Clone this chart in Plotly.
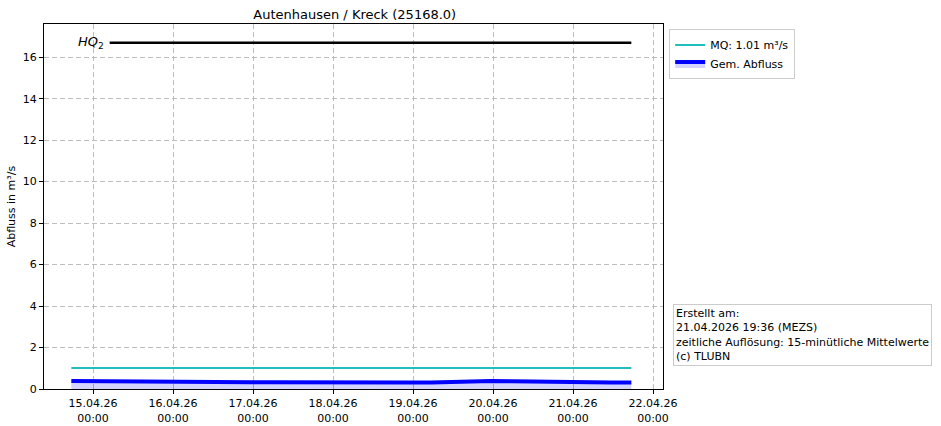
import plotly.graph_objects as go

zeiten = [
    "2026-04-14 17:30", "2026-04-14 23:30", "2026-04-15 05:30", "2026-04-15 11:30",
    "2026-04-15 17:30", "2026-04-15 23:30", "2026-04-16 05:30", "2026-04-16 11:30",
    "2026-04-16 17:30", "2026-04-16 23:30", "2026-04-17 05:30", "2026-04-17 11:30",
    "2026-04-17 17:30", "2026-04-17 23:30", "2026-04-18 05:30", "2026-04-18 11:30",
    "2026-04-18 17:30", "2026-04-18 23:30", "2026-04-19 05:30", "2026-04-19 11:30",
    "2026-04-19 17:30", "2026-04-19 23:30", "2026-04-20 05:30", "2026-04-20 11:30",
    "2026-04-20 17:30", "2026-04-20 23:30", "2026-04-21 05:30", "2026-04-21 11:30",
    "2026-04-21 17:30",
]
abfluss = [
    0.38, 0.37, 0.36, 0.35, 0.34, 0.34, 0.33, 0.33,
    0.33, 0.33, 0.33, 0.32, 0.32, 0.31, 0.31, 0.31,
    0.31, 0.31, 0.31, 0.33, 0.38, 0.39, 0.37, 0.35,
    0.34, 0.32, 0.31, 0.31, 0.31,
]

mq = 1.01
hq2 = 16.7
hq_zeiten = ["2026-04-15 05:00", "2026-04-21 17:30"]

tick_zeiten = [
    "2026-04-15", "2026-04-16", "2026-04-17", "2026-04-18",
    "2026-04-19", "2026-04-20", "2026-04-21", "2026-04-22",
]
tick_texte = [
    "15.04.26<br>00:00", "16.04.26<br>00:00", "17.04.26<br>00:00", "18.04.26<br>00:00",
    "19.04.26<br>00:00", "20.04.26<br>00:00", "21.04.26<br>00:00", "22.04.26<br>00:00",
]

FONT = "DejaVu Sans"

fig = go.Figure()

# HQ2 (ohne Legendeneintrag)
fig.add_trace(go.Scatter(
    x=hq_zeiten, y=[hq2, hq2], mode="lines",
    line=dict(color="black", width=2.5), showlegend=False, hoverinfo="skip",
))
fig.add_trace(go.Scatter(
    x=[zeiten[0], zeiten[-1]], y=[mq, mq], mode="lines",
    line=dict(color="#1fbfbf", width=2), name=f"MQ: {mq} m³/s",
))
fig.add_trace(go.Scatter(
    x=zeiten, y=abfluss, mode="lines", fill="tozeroy",
    fillcolor="rgba(0,0,255,0.17)",
    line=dict(color="blue", width=4), name="Gem. Abfluss",
))

fig.add_annotation(
    x="2026-04-14 19:00", y=hq2, xref="x", yref="y", showarrow=False,
    xanchor="left", yanchor="middle",
    text="<i>HQ</i><sub>2</sub>", font=dict(size=13, color="black", family=FONT),
)
fig.add_annotation(
    x=1.016, y=0.063, xref="paper", yref="paper", showarrow=False,
    xanchor="left", yanchor="bottom", align="left",
    text=("Erstellt am:<br>21.04.2026 19:36 (MEZS)<br>"
          "zeitliche Auflösung: 15-minütliche Mittelwerte<br>(c) TLUBN"),
    font=dict(size=11, color="black", family=FONT),
    bordercolor="#cccccc", borderwidth=1, borderpad=2, bgcolor="white",
)
# y-Achsentitel als Annotation, damit die Lage passt
fig.add_annotation(
    x=-0.052, y=0.5, xref="paper", yref="paper", showarrow=False,
    xanchor="center", yanchor="middle", textangle=-90,
    text="Abfluss in m³/s", font=dict(size=11, color="black", family=FONT),
)

grid = dict(showgrid=True, gridcolor="#bdbdbd", griddash="5px,3px", gridwidth=1,
            showline=True, linecolor="black", linewidth=1, mirror=True,
            ticks="outside", ticklen=4, tickcolor="black", zeroline=False,
            tickfont=dict(size=11, color="black", family=FONT))

fig.update_xaxes(
    range=["2026-04-14 09:18", "2026-04-22 03:00"],
    tickvals=tick_zeiten, ticktext=tick_texte, **grid,
)
fig.update_yaxes(range=[0, 17.6], tickvals=list(range(0, 17, 2)), **grid)

fig.update_layout(
    width=941, height=426,
    margin=dict(l=44, r=278, t=24, b=37, autoexpand=False),
    plot_bgcolor="white", paper_bgcolor="white",
    font=dict(family=FONT, size=11, color="black"),
    title=dict(text="Autenhausen / Kreck (25168.0)", x=0.377, xanchor="center",
               y=1 - 14 / 426, yanchor="middle",
               font=dict(size=13, color="black", family=FONT)),
    legend=dict(x=1.01, y=0.985, xanchor="left", yanchor="top",
                bordercolor="#cccccc", borderwidth=1, bgcolor="white",
                font=dict(size=11, family=FONT), itemwidth=30,
                tracegroupgap=0),
    showlegend=True,
)

fig.write_html("out.html", config={"displayModeBar": False},
               post_script="document.body.style.margin='0';")
